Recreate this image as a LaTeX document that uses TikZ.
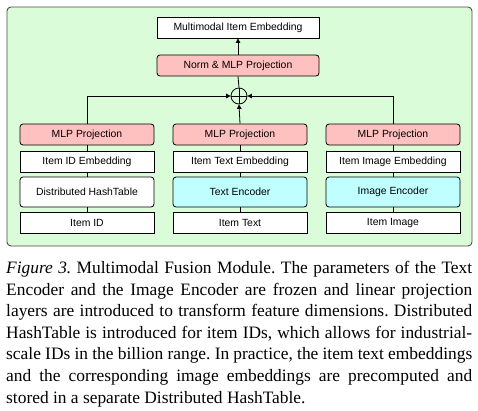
\documentclass[tikz,border=0pt]{standalone}
\usepackage{fontspec}
\setmainfont{Liberation Serif}
\setsansfont{Liberation Sans}
\usepackage{tikz}
\usetikzlibrary{arrows.meta}

\definecolor{panelgreen}{RGB}{218,252,216}
\definecolor{projpink}{RGB}{255,192,192}
\definecolor{enccyan}{RGB}{192,255,255}

\tikzset{
  box/.style={draw=black, line width=0.8pt, fill=white, minimum width=134pt, minimum height=21pt, inner sep=0pt, font=\sffamily\fontsize{10.4}{12}\selectfont},
  proj/.style={box, fill=projpink, rounded corners=3pt},
  enc/.style={box, fill=enccyan, rounded corners=3pt, minimum height=30pt},
  hash/.style={box, rounded corners=3pt, minimum height=30pt},
  link/.style={draw=black, line width=0.8pt},
  arr/.style={link, -{Triangle[length=4.5pt,width=4.5pt]}}
}

\begin{document}
\begin{tikzpicture}[x=1pt, y=-1pt]
		\useasboundingbox (0,0) rectangle (478,410);
		% green panel
		\draw[fill=panelgreen, draw=black!70, line width=0.9pt, rounded corners=4pt] (7,7) rectangle (472,246);
		% top part
		\node[box, minimum width=162pt] (out) at (238,27.5) {Multimodal Item Embedding};
		\node[proj, minimum width=162pt] (norm) at (238,65.5) {Norm \& MLP Projection};
		\node[draw=black, line width=0.8pt, circle, minimum size=16pt, inner sep=0pt, path picture={
			\draw[line width=0.8pt] (path picture bounding box.north) -- (path picture bounding box.south);
			\draw[line width=0.8pt] (path picture bounding box.west) -- (path picture bounding box.east);}] (sum) at (239,96) {};
		% columns
		\node[proj] (idproj) at (87,134.5) {MLP Projection};
		\node[box] (idemb) at (87,161.5) {Item ID Embedding};
		\node[hash] (hashtab) at (87,192) {Distributed HashTable};
		\node[box] (id) at (87,222.5) {Item ID};
		\node[proj] (txtproj) at (240,134.5) {MLP Projection};
		\node[box] (txtemb) at (240,161.5) {Item Text Embedding};
		\node[enc] (txtenc) at (240,192) {Text Encoder};
		\node[box] (txt) at (240,222.5) {Item Text};
		\node[proj] (imgproj) at (393,134.5) {MLP Projection};
		\node[box] (imgemb) at (393,161.5) {Item Image Embedding};
		\node[enc] (imgenc) at (393,192) {Image Encoder};
		\node[box] (img) at (393,222.5) {Item Image};
		% links
		\foreach \a/\b in {id/hashtab, hashtab/idemb, idemb/idproj, txt/txtenc, txtenc/txtemb, txtemb/txtproj, img/imgenc, imgenc/imgemb, imgemb/imgproj}
			\draw[link] (\a) -- (\b);
		\draw[arr] (txtproj.north) -- (sum.south);
		\draw[arr] (idproj.north) |- (sum.west);
		\draw[arr] (imgproj.north) |- (sum.east);
		\draw[link] (sum.north) -- (norm.south);
		\draw[arr] (norm.north) -- (out.south);
		% caption
		\node[anchor=north west, inner sep=0pt, text width=466pt, align=justify, font=\fontsize{17.4}{21.6}\selectfont\frenchspacing] (caption) at (6,261) {\hyphenpenalty=10000\relax\textit{Figure 3.} Multimodal Fusion Module. The parameters of the Text\linebreak Encoder and the Image Encoder are frozen and linear projection\linebreak layers are introduced to transform feature dimensions. Distributed\linebreak HashTable is introduced for item IDs, which allows for industrial-\linebreak scale IDs in the billion range. In practice, the item text embeddings\linebreak and the corresponding image embeddings are precomputed and\linebreak stored in a separate Distributed HashTable.};
		\end{tikzpicture}
\end{document}
